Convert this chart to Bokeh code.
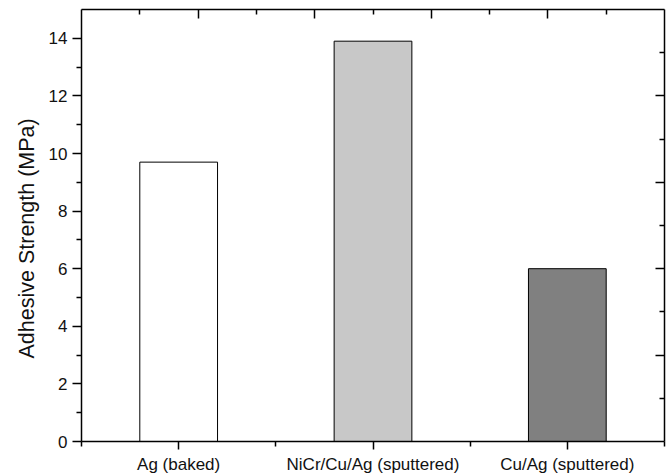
from bokeh.plotting import figure
from bokeh.models import (Range1d, LinearAxis, FixedTicker, Title,
                          CustomLabelingPolicy)
from bokeh.embed import file_html
from bokeh.resources import INLINE

categories = ["Ag (baked)", "NiCr/Cu/Ag (sputtered)", "Cu/Ag (sputtered)"]
strength = [9.7, 13.9, 6.0]
bar_colors = ["#ffffff", "#c8c8c8", "#808080"]

y_major = [0, 2, 4, 6, 8, 10, 12, 14]
y_minor = [1, 3, 5, 7, 9, 11, 13]
mirror_major = [2, 4, 6, 8]
mirror_minor = [1, 3, 5, 7, 9]
y_title = "Adhesive Strength (MPa)"

xs = list(range(1, len(categories) + 1))
x_minor = [x - 0.5 for x in xs] + [xs[-1] + 0.5]

FONT = "Liberation Sans"
TXT = "#111111"

p = figure(width=670, height=476, output_backend="svg", toolbar_location=None,
           x_range=Range1d(0.5, len(categories) + 0.5), y_range=Range1d(0, 15),
           x_axis_type=None, y_axis_type=None,
           min_border_left=81, min_border_right=6, min_border_top=9, min_border_bottom=35)
p.outline_line_color = None
p.xgrid.visible = False
p.ygrid.visible = False
p.background_fill_color = "white"
p.border_fill_color = "white"

p.extra_x_ranges = {"top": Range1d(0, 10)}
p.extra_y_ranges = {"right": Range1d(0, 10)}

p.vbar(x=xs, top=strength, width=0.4, fill_color=bar_colors,
       line_color="black", line_width=1)


def style(ax, major_out, major_in, minor_out, minor_in):
    ax.axis_line_color = "black"
    ax.axis_line_width = 1.5
    ax.major_tick_line_color = "black"
    ax.major_tick_line_width = 1.5
    ax.minor_tick_line_color = "black"
    ax.minor_tick_line_width = 1.5
    ax.major_tick_out = major_out
    ax.major_tick_in = major_in
    ax.minor_tick_out = minor_out
    ax.minor_tick_in = minor_in
    ax.major_label_text_font = FONT
    ax.major_label_text_color = TXT


no_labels = CustomLabelingPolicy(code="""
    const all = [...indices]
    for (const i of all) indices.unset(i)
    return indices
""")

# bottom
xb = LinearAxis(ticker=FixedTicker(ticks=xs, minor_ticks=x_minor))
xb.major_label_overrides = {x: c for x, c in zip(xs, categories)}
style(xb, 8, 0, 5, 0)
xb.major_label_text_font_size = "17px"
xb.major_label_standoff = 5
p.add_layout(xb, "below")

# left
yl = LinearAxis(ticker=FixedTicker(ticks=y_major, minor_ticks=y_minor))
style(yl, 9, 0, 5, 0)
yl.major_label_text_font_size = "17px"
yl.major_label_standoff = 5
p.add_layout(yl, "left")

# y-axis title, starting a little above the frame bottom as in the original
p.add_layout(Title(text=y_title, align="left", offset=83, standoff=13,
                   text_font=FONT, text_font_size="21.5px",
                   text_font_style="normal", text_color=TXT), "left")

# top mirror
xt = LinearAxis(x_range_name="top",
                ticker=FixedTicker(ticks=mirror_major, minor_ticks=mirror_minor))
style(xt, 0, 9, 0, 5)
xt.major_label_policy = no_labels
xt.major_label_text_font_size = "0px"
xt.major_label_standoff = 0
p.add_layout(xt, "above")

# right mirror
yr = LinearAxis(y_range_name="right",
                ticker=FixedTicker(ticks=mirror_major, minor_ticks=mirror_minor))
style(yr, 0, 9, 0, 5)
yr.major_label_policy = CustomLabelingPolicy(code=no_labels.code)
yr.major_label_text_font_size = "0px"
yr.major_label_standoff = 0
p.add_layout(yr, "right")

open("out.html", "w").write(file_html(p, INLINE))
